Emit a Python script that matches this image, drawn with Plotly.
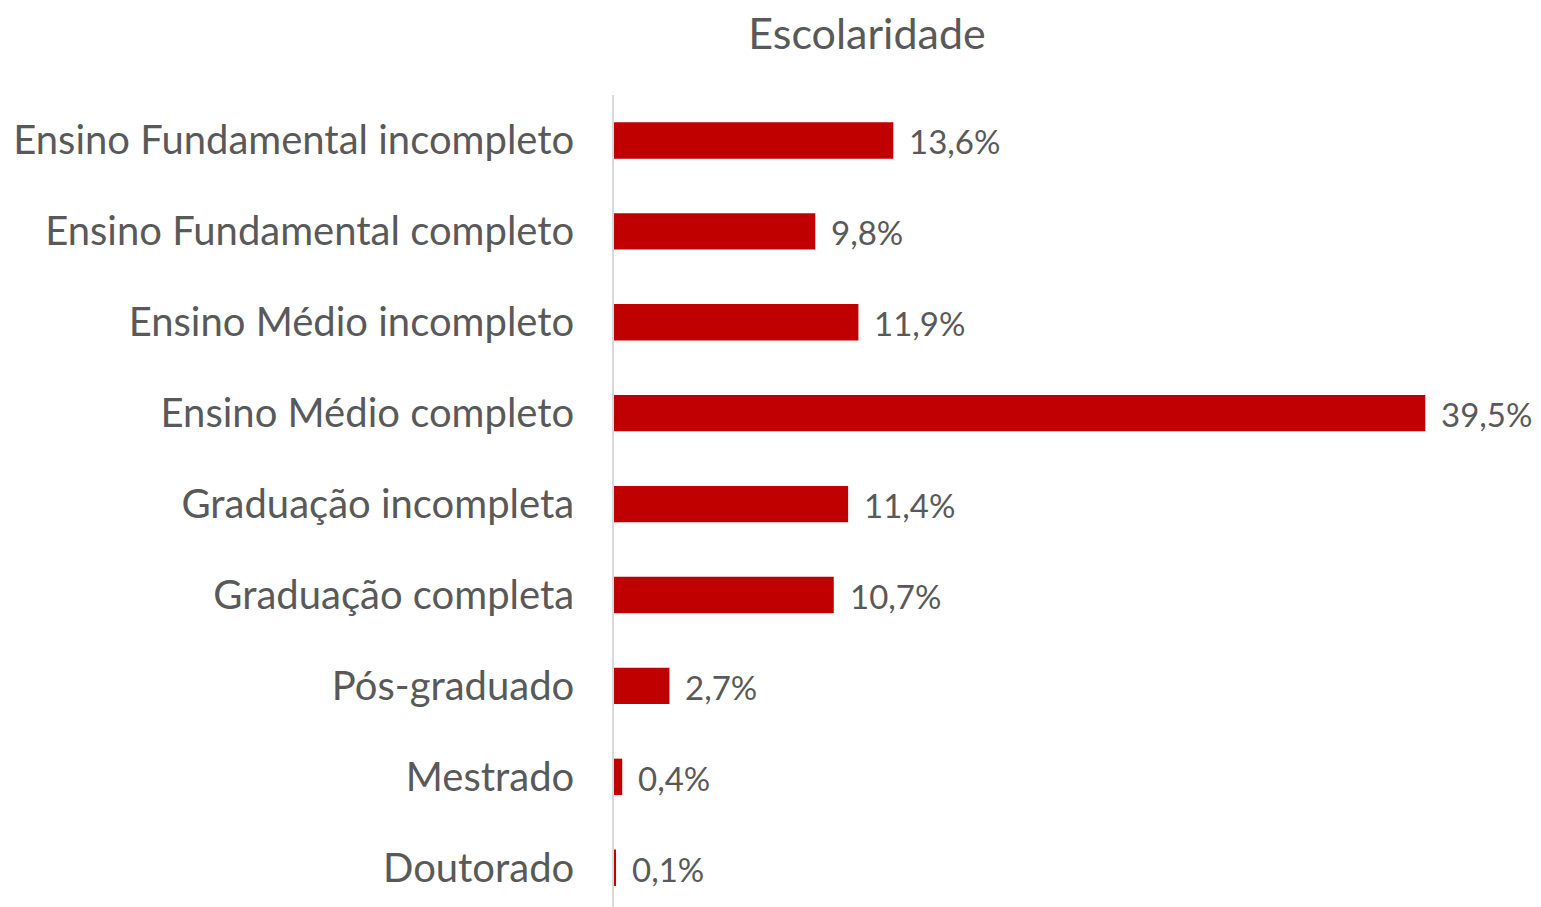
import plotly.graph_objects as go

categories = [
    "Ensino Fundamental incompleto",
    "Ensino Fundamental completo",
    "Ensino Médio incompleto",
    "Ensino Médio completo",
    "Graduação incompleta",
    "Graduação completa",
    "Pós-graduado",
    "Mestrado",
    "Doutorado",
]
values = [13.6, 9.8, 11.9, 39.5, 11.4, 10.7, 2.7, 0.4, 0.1]
labels = ["13,6%", "9,8%", "11,9%", "39,5%", "11,4%", "10,7%", "2,7%", "0,4%", "0,1%"]

FONT = "Lato"
TXT = "#595959"
W, H = 1541, 907

fig = go.Figure()
fig.add_trace(go.Bar(
    y=categories, x=values, orientation="h",
    marker=dict(color="#C00000", line=dict(width=0)),
    width=0.4,
    hoverinfo="skip",
))
for c, v, t in zip(categories, values, labels):
    fig.add_annotation(x=v, y=c, text=t, showarrow=False, xanchor="left",
                       xshift=14, yshift=-1,
                       font=dict(family=FONT, size=33, color=TXT))

fig.update_layout(
    width=W, height=H,
    margin=dict(l=606, r=21, t=86.5, b=0, pad=0, autoexpand=False),
    paper_bgcolor="white", plot_bgcolor="white",
    showlegend=False,
    title=dict(text="Escolaridade", x=859 / W, xref="container", xanchor="center",
               y=1 - 26 / H, yref="container", yanchor="middle",
               font=dict(family=FONT, size=43, color=TXT)),
    xaxis=dict(range=[0, 44.5], visible=False, fixedrange=True, automargin=False),
    yaxis=dict(
        categoryorder="array", categoryarray=categories,
        range=[8.52, -0.5], autorange=False, automargin=False,
        showline=True, linecolor="#D9D9D9", linewidth=1.5,
        showgrid=False, zeroline=False, ticks="",
        ticklabelstandoff=30,
        tickfont=dict(family=FONT, size=40, color=TXT),
    ),
)
fig.write_html("out.html")
